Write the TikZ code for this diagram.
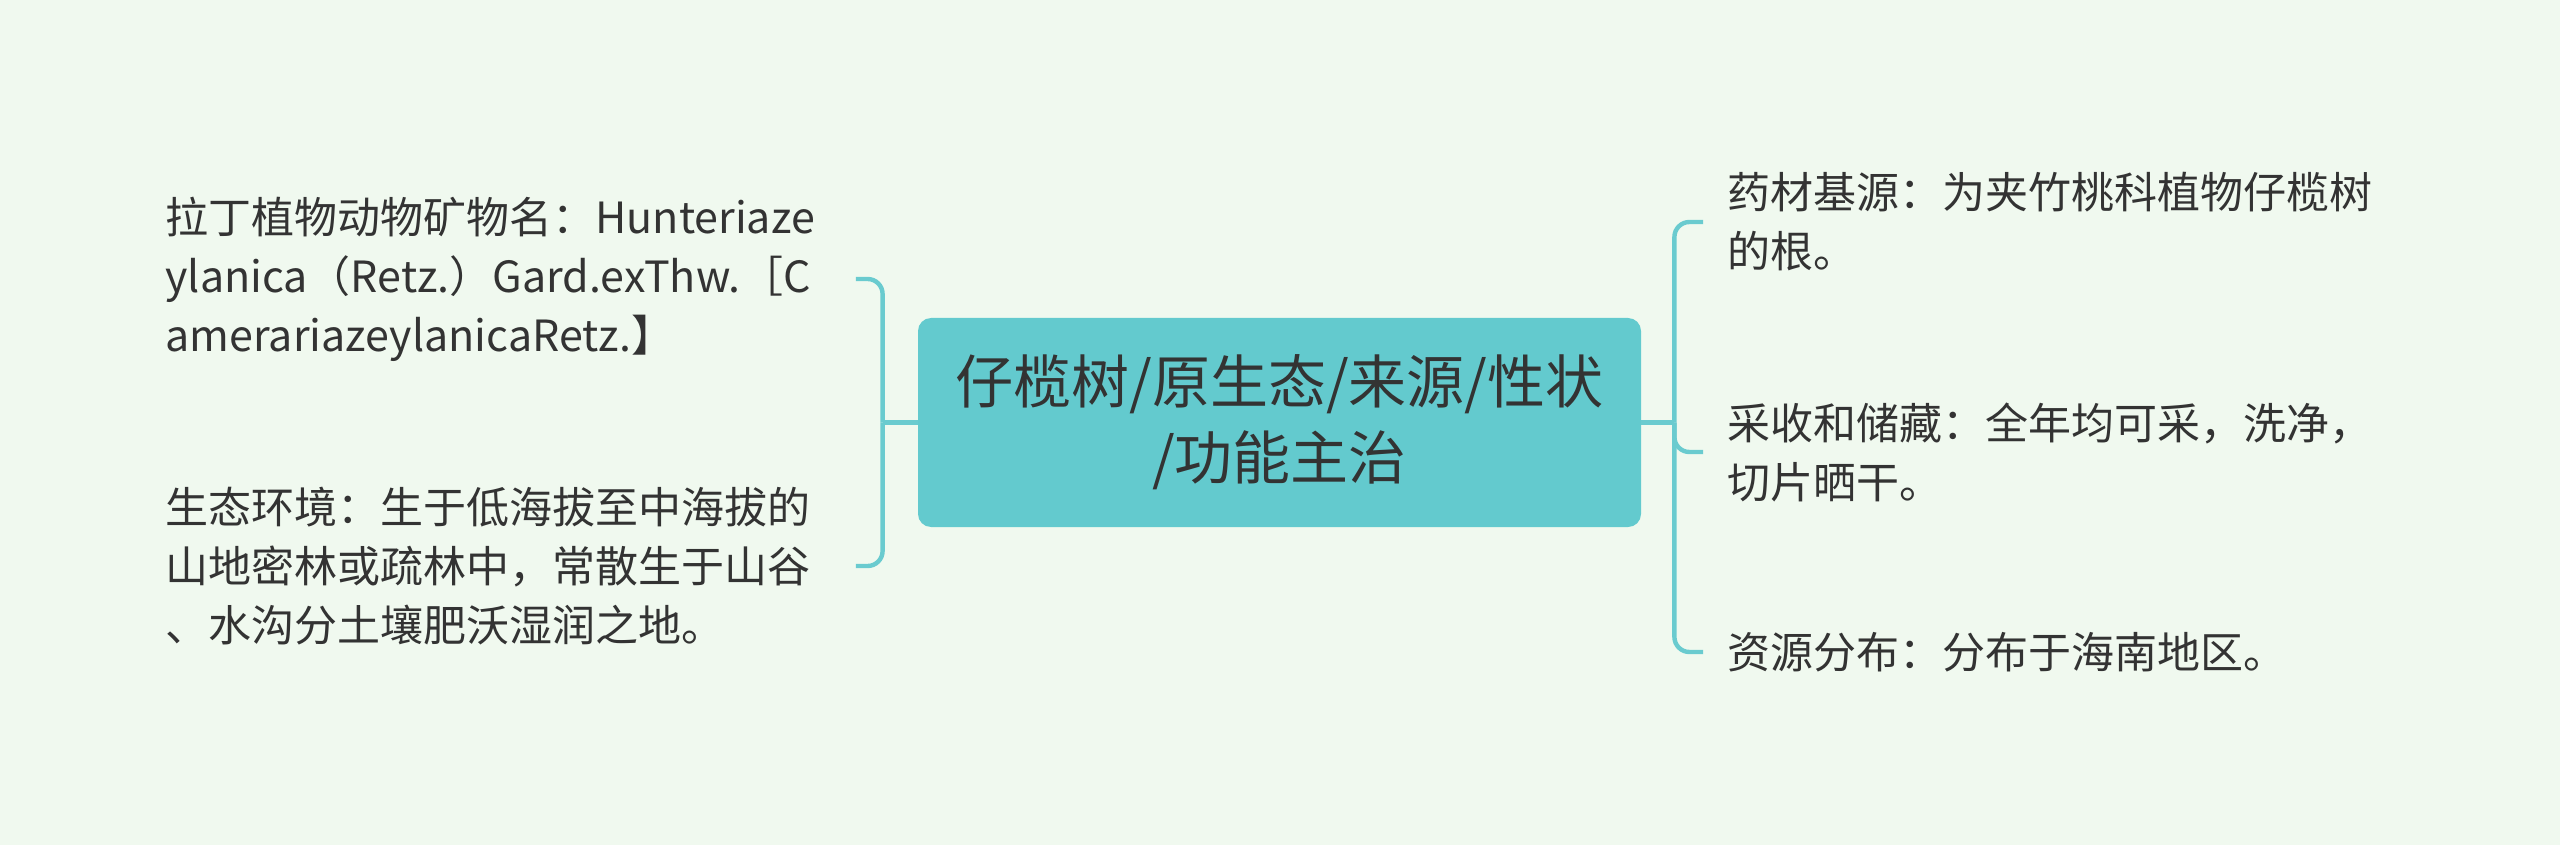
\documentclass[tikz,border=0pt]{standalone}
\usepackage{fontspec}
\setmainfont{Noto Sans CJK SC}
\definecolor{bgcol}{RGB}{240,249,239}
\definecolor{boxcol}{RGB}{99,202,206}
\definecolor{linecol}{RGB}{106,203,207}
\definecolor{txtcol}{RGB}{51,51,51}

\begin{document}
\begin{tikzpicture}[x=0.5pt, y=-0.5pt,
    root/.style={fill=boxcol, rounded corners=6.5pt, minimum width=361.5pt, minimum height=104.5pt,
                 align=center, text=txtcol, font=\fontsize{29}{38}\selectfont},
    leaf/.style={inner xsep=0pt, inner ysep=0pt, align=left, text width=345pt,
                 text=txtcol, font=\fontsize{21.5}{29.5}\selectfont},
    link/.style={draw=linecol, line width=2.2pt, rounded corners=7.5pt}]
    \useasboundingbox[fill=bgcol] (0,0) rectangle (2560,845);

    % Nodes {root, left and right leaves}
    \node [root]                (root)  at (1279.5,422.5)  {仔榄树/原生态/来源/性状\\/功能主治};
    \node [leaf, anchor=west]   (latin) at (165,279)       {拉丁植物动物矿物名：Hunteriaze\\ylanica（Retz.）Gard.exThw.［C\\amerariazeylanicaRetz.】};
    \node [leaf, anchor=west]   (eco)   at (165,566)       {生态环境：生于低海拔至中海拔的\\山地密林或疏林中，常散生于山谷\\、水沟分土壤肥沃湿润之地。};
    \node [leaf, anchor=west, inner xsep=12pt, text width=360pt] (src)  at (1703,222) {药材基源：为夹竹桃科植物仔榄树\\的根。};
    \node [leaf, anchor=west, inner xsep=12pt, text width=360pt] (harv) at (1703,452) {采收和储藏：全年均可采，洗净，\\切片晒干。};
    \node [leaf, anchor=west, inner xsep=12pt, text width=360pt] (dist) at (1703,652) {资源分布：分布于海南地区。};

    \coordinate (lhub) at ([xshift=-17.5pt]root.west);
    \coordinate (rhub) at ([xshift=16.5pt]root.east);

    % Paths
    \draw [link]  (root.west) -- (lhub);
    \draw [link]  (lhub) |- (latin.east);
    \draw [link]  (lhub) |- (eco.east);
    \draw [link]  (root.east) -- (rhub);
    \draw [link]  (rhub) |- (src.west);
    \draw [link]  (rhub) |- (harv.west);
    \draw [link]  (rhub) |- (dist.west);

\end{tikzpicture}
\end{document}
